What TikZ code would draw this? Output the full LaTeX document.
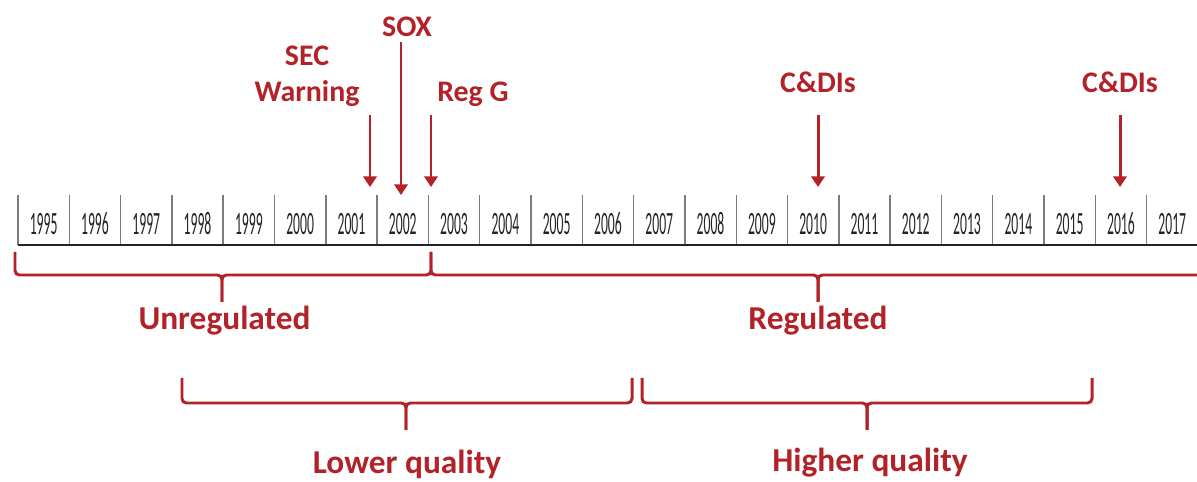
\documentclass[tikz,border=0pt]{standalone}
\usepackage{fontspec}
\setmainfont{Carlito}
\newfontfamily\yearfont[FakeStretch=0.42]{Carlito}
\usetikzlibrary{arrows.meta}
\definecolor{labelred}{RGB}{178,34,40}
\definecolor{tickgrey}{RGB}{125,125,125}
\definecolor{yeargrey}{RGB}{35,35,35}
\tikzset{
  yearlabel/.style={font=\yearfont\fontsize{18.5}{18.5}\selectfont, text=yeargrey, anchor=base, inner sep=0pt},
  eventlabel/.style={font=\bfseries\fontsize{17}{20.5}\selectfont, text=labelred, anchor=base, align=center, inner sep=0pt},
  periodlabel/.style={font=\bfseries\fontsize{19}{22}\selectfont, text=labelred, anchor=base, inner sep=0pt},
  eventarrow/.style={draw=labelred, line width=1.7pt, -{Triangle[width=7.5pt,length=6pt]}},
  bracket/.style={draw=labelred, line width=1.7pt, rounded corners=2.5pt},
  tick/.style={draw=tickgrey, line width=0.8pt},
  axis/.style={draw=yeargrey, line width=1.1pt}
}
\begin{document}
\begin{tikzpicture}[x=0.02cm, y=-0.02cm]
	\useasboundingbox (0,0) rectangle (1197,482);
	% year cells
	\foreach \i in {0,...,22}{
		\pgfmathtruncatemacro{\yr}{1995+\i}
		\draw[tick] ({18+51.3*\i},195) -- ({18+51.3*\i},245);
		\node[yearlabel] (y\yr) at ({43.65+51.3*\i},235) {\yr};
	}
	\draw[axis] (18,245) -- (1197,245);
	% events
	\node[eventlabel] (sec) at (307,102) {SEC\\Warning};
	\node[eventlabel] (sox) at (407,37) {SOX};
	\node[eventlabel] (regg) at (473,102) {Reg G};
	\node[eventlabel] (cdiA) at (818,93) {C\&DIs};
	\node[eventlabel] (cdiB) at (1120,93) {C\&DIs};
	\coordinate (secFrom) at (370,115);  \coordinate (secTo) at (370,187);
	\coordinate (soxFrom) at (401,42);   \coordinate (soxTo) at (401,195);
	\coordinate (reggFrom) at (431,115); \coordinate (reggTo) at (431,187);
	\coordinate (cdiAFrom) at (818,115); \coordinate (cdiATo) at (818,187);
	\coordinate (cdiBFrom) at (1120,115); \coordinate (cdiBTo) at (1120,187);
	\draw[eventarrow] (secFrom) -- (secTo);
	\draw[eventarrow] (soxFrom) -- (soxTo);
	\draw[eventarrow] (reggFrom) -- (reggTo);
	\draw[eventarrow] (cdiAFrom) -- (cdiATo);
	\draw[eventarrow] (cdiBFrom) -- (cdiBTo);
	% periods
	\node[periodlabel] (unreg) at (224.5,330) {Unregulated};
	\node[periodlabel] (reg) at (818,330) {Regulated};
	\node[periodlabel] (lowq) at (407,474) {Lower quality};
	\node[periodlabel] (highq) at (870,472) {Higher quality};
	\coordinate (unregTip) at (222,302);
	\coordinate (regTip) at (818,302);
	\coordinate (lowqTip) at (406,430);
	\coordinate (highqTip) at (867,430);
	\draw[bracket] (15,252) -- (15,275) -| (unregTip);
	\draw[bracket] (431,252) -- (431,275) -| (unregTip);
	\draw[bracket] (431,252) -- (431,275) -| (regTip);
	\draw[bracket] (1197,275) -| (regTip);
	\draw[bracket] (182,378) -- (182,403) -| (lowqTip);
	\draw[bracket] (632,378) -- (632,403) -| (lowqTip);
	\draw[bracket] (642,378) -- (642,403) -| (highqTip);
	\draw[bracket] (1092,378) -- (1092,403) -| (highqTip);
\end{tikzpicture}
\end{document}
